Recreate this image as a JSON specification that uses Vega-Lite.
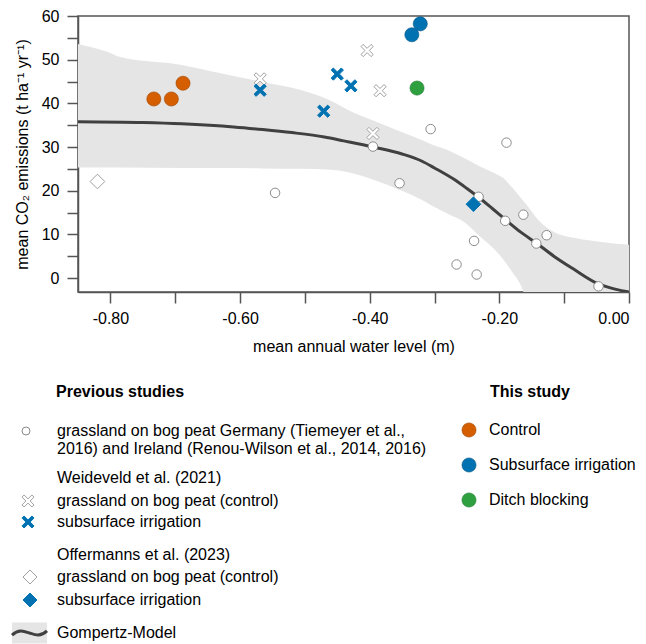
{
  "$schema": "https://vega.github.io/schema/vega-lite/v6.json",
  "width": 551,
  "height": 276,
  "autosize": {"type": "none"},
  "padding": {"left": 78, "top": 16, "right": 17, "bottom": 352},
  "background": "white",
  "config": {
    "font": "Liberation Sans",
    "view": {"stroke": "#555555", "strokeWidth": 1.5},
    "axis": {
      "domainColor": "#555555", "domainWidth": 1.5,
      "tickColor": "#555555", "tickWidth": 1.5, "tickSize": 11,
      "labelFontSize": 16, "labelColor": "#000000", "labelFont": "Liberation Sans",
      "titleFontSize": 16, "titleFontWeight": "normal", "titleColor": "#000000", "titleFont": "Liberation Sans",
      "grid": false
    },
    "legend": {
      "orient": "none", "padding": 0,
      "labelFontSize": 16, "titleFontSize": 16, "labelFont": "Liberation Sans", "titleFont": "Liberation Sans",
      "labelColor": "#000000", "titleColor": "#000000", "labelLimit": 0, "titleLimit": 0
    }
  },
  "datasets": {
    "curve": [
      {"wl": -0.85, "co2": 35.8, "model": "Gompertz-Model"},
      {"wl": -0.75, "co2": 35.6, "model": "Gompertz-Model"},
      {"wl": -0.69, "co2": 35.3, "model": "Gompertz-Model"},
      {"wl": -0.61, "co2": 34.6, "model": "Gompertz-Model"},
      {"wl": -0.565, "co2": 34.0, "model": "Gompertz-Model"},
      {"wl": -0.52, "co2": 33.3, "model": "Gompertz-Model"},
      {"wl": -0.47, "co2": 32.3, "model": "Gompertz-Model"},
      {"wl": -0.44, "co2": 31.4, "model": "Gompertz-Model"},
      {"wl": -0.395, "co2": 30.0, "model": "Gompertz-Model"},
      {"wl": -0.35, "co2": 28.4, "model": "Gompertz-Model"},
      {"wl": -0.32, "co2": 26.8, "model": "Gompertz-Model"},
      {"wl": -0.3, "co2": 25.2, "model": "Gompertz-Model"},
      {"wl": -0.27, "co2": 22.6, "model": "Gompertz-Model"},
      {"wl": -0.25, "co2": 20.5, "model": "Gompertz-Model"},
      {"wl": -0.232, "co2": 18.5, "model": "Gompertz-Model"},
      {"wl": -0.21, "co2": 15.8, "model": "Gompertz-Model"},
      {"wl": -0.19, "co2": 13.3, "model": "Gompertz-Model"},
      {"wl": -0.167, "co2": 10.5, "model": "Gompertz-Model"},
      {"wl": -0.142, "co2": 7.9, "model": "Gompertz-Model"},
      {"wl": -0.116, "co2": 5.0, "model": "Gompertz-Model"},
      {"wl": -0.085, "co2": 2.0, "model": "Gompertz-Model"},
      {"wl": -0.048, "co2": -1.3, "model": "Gompertz-Model"},
      {"wl": -0.02, "co2": -2.6, "model": "Gompertz-Model"},
      {"wl": 0.0, "co2": -3.2, "model": "Gompertz-Model"}
    ],
    "band": [
      {"wl": -0.85, "co2": 25.3, "co2hi": 53.6, "model": "band"},
      {"wl": -0.805, "co2": 25.3, "co2hi": 51.8, "model": "band"},
      {"wl": -0.785, "co2": 25.3, "co2hi": 50.6, "model": "band"},
      {"wl": -0.69, "co2": 25.2, "co2hi": 48.8, "model": "band"},
      {"wl": -0.63, "co2": 25.2, "co2hi": 46.9, "model": "band"},
      {"wl": -0.565, "co2": 25.1, "co2hi": 44.9, "model": "band"},
      {"wl": -0.505, "co2": 25.0, "co2hi": 43.0, "model": "band"},
      {"wl": -0.46, "co2": 24.8, "co2hi": 40.6, "model": "band"},
      {"wl": -0.435, "co2": 24.3, "co2hi": 38.6, "model": "band"},
      {"wl": -0.39, "co2": 22.3, "co2hi": 35.8, "model": "band"},
      {"wl": -0.352, "co2": 20.1, "co2hi": 33.5, "model": "band"},
      {"wl": -0.32, "co2": 17.9, "co2hi": 31.6, "model": "band"},
      {"wl": -0.306, "co2": 16.7, "co2hi": 30.7, "model": "band"},
      {"wl": -0.275, "co2": 14.4, "co2hi": 29.0, "model": "band"},
      {"wl": -0.259, "co2": 13.3, "co2hi": 27.8, "model": "band"},
      {"wl": -0.229, "co2": 9.4, "co2hi": 25.5, "model": "band"},
      {"wl": -0.202, "co2": 5.7, "co2hi": 23.6, "model": "band"},
      {"wl": -0.195, "co2": 4.4, "co2hi": 23.0, "model": "band"},
      {"wl": -0.182, "co2": 1.8, "co2hi": 21.0, "model": "band"},
      {"wl": -0.167, "co2": -1.6, "co2hi": 18.4, "model": "band"},
      {"wl": -0.158, "co2": -4.5, "co2hi": 16.8, "model": "band"},
      {"wl": -0.14, "co2": -4.5, "co2hi": 13.3, "model": "band"},
      {"wl": -0.115, "co2": -4.5, "co2hi": 10.5, "model": "band"},
      {"wl": -0.085, "co2": -4.5, "co2hi": 9.2, "model": "band"},
      {"wl": -0.04, "co2": -4.5, "co2hi": 8.2, "model": "band"},
      {"wl": 0.0, "co2": -4.5, "co2hi": 7.6, "model": "band"}
    ],
    "pts": [
      {"study": "tiemeyer", "label": "grassland on bog peat Germany and Ireland", "wl": -0.306, "co2": 34.1},
      {"study": "tiemeyer", "label": "grassland on bog peat Germany and Ireland", "wl": -0.189, "co2": 31.0},
      {"study": "tiemeyer", "label": "grassland on bog peat Germany and Ireland", "wl": -0.395, "co2": 30.1},
      {"study": "tiemeyer", "label": "grassland on bog peat Germany and Ireland", "wl": -0.546, "co2": 19.5},
      {"study": "tiemeyer", "label": "grassland on bog peat Germany and Ireland", "wl": -0.354, "co2": 21.7},
      {"study": "tiemeyer", "label": "grassland on bog peat Germany and Ireland", "wl": -0.232, "co2": 18.6},
      {"study": "tiemeyer", "label": "grassland on bog peat Germany and Ireland", "wl": -0.163, "co2": 14.5},
      {"study": "tiemeyer", "label": "grassland on bog peat Germany and Ireland", "wl": -0.191, "co2": 13.1},
      {"study": "tiemeyer", "label": "grassland on bog peat Germany and Ireland", "wl": -0.127, "co2": 9.8},
      {"study": "tiemeyer", "label": "grassland on bog peat Germany and Ireland", "wl": -0.143, "co2": 7.9},
      {"study": "tiemeyer", "label": "grassland on bog peat Germany and Ireland", "wl": -0.239, "co2": 8.5},
      {"study": "tiemeyer", "label": "grassland on bog peat Germany and Ireland", "wl": -0.266, "co2": 3.1},
      {"study": "tiemeyer", "label": "grassland on bog peat Germany and Ireland", "wl": -0.235, "co2": 0.8},
      {"study": "tiemeyer", "label": "grassland on bog peat Germany and Ireland", "wl": -0.047, "co2": -1.9},
      {"study": "weideveld", "label": "grassland on bog peat (control)", "wl": -0.569, "co2": 45.6},
      {"study": "weideveld", "label": "grassland on bog peat (control)", "wl": -0.404, "co2": 52.1},
      {"study": "weideveld", "label": "grassland on bog peat (control)", "wl": -0.384, "co2": 42.9},
      {"study": "weideveld", "label": "grassland on bog peat (control)", "wl": -0.395, "co2": 33.1},
      {"study": "weideveld", "label": "subsurface irrigation", "wl": -0.569, "co2": 43.0},
      {"study": "weideveld", "label": "subsurface irrigation", "wl": -0.471, "co2": 38.2},
      {"study": "weideveld", "label": "subsurface irrigation", "wl": -0.45, "co2": 46.7},
      {"study": "weideveld", "label": "subsurface irrigation", "wl": -0.429, "co2": 44.0},
      {"study": "offermanns", "label": "grassland on bog peat (control)", "wl": -0.82, "co2": 22.1},
      {"study": "offermanns", "label": "subsurface irrigation", "wl": -0.24, "co2": 16.9},
      {"study": "this", "label": "Control", "wl": -0.733, "co2": 41.0},
      {"study": "this", "label": "Control", "wl": -0.706, "co2": 41.0},
      {"study": "this", "label": "Control", "wl": -0.688, "co2": 44.6},
      {"study": "this", "label": "Subsurface irrigation", "wl": -0.322, "co2": 58.2},
      {"study": "this", "label": "Subsurface irrigation", "wl": -0.335, "co2": 55.7},
      {"study": "this", "label": "Ditch blocking", "wl": -0.327, "co2": 43.5}
    ]
  },
  "encoding": {
    "x": {
      "field": "wl", "type": "quantitative",
      "scale": {"domain": [-0.85, 0], "nice": false, "zero": false},
      "axis": {
        "title": "mean annual water level (m)",
        "values": [-0.8, -0.7, -0.6, -0.5, -0.4, -0.3, -0.2, -0.1, 0],
        "labelExpr": "(round(datum.value * 10) % 2 == 0) ? ((datum.value < 0 ? '-' : '') + format(abs(datum.value), '.2f')) : ''",
        "labelPadding": 7, "titlePadding": 12
      }
    },
    "y": {
      "field": "co2", "type": "quantitative",
      "scale": {"domain": [-3.2, 60], "nice": false, "zero": false},
      "axis": {
        "title": "mean CO₂ emissions (t ha⁻¹ yr⁻¹)",
        "values": [0, 5, 10, 15, 20, 25, 30, 35, 40, 45, 50, 55, 60],
        "labelExpr": "datum.value % 10 == 0 ? datum.label : ''",
        "labelPadding": 8, "titlePadding": 11
      }
    }
  },
  "layer": [
    {
      "data": {"name": "band"},
      "mark": {"type": "area", "clip": true, "interpolate": "monotone"},
      "encoding": {
        "y2": {"field": "co2hi"},
        "fill": {
          "field": "model", "type": "nominal",
          "scale": {"range": ["#e5e5e5"]},
          "legend": {
            "title": null, "symbolType": "M-1,-0.6L1,-0.6L1,0.6L-1,0.6Z", "symbolSize": 1225,
            "symbolStrokeWidth": 0, "symbolStrokeColor": "transparent", "symbolFillColor": "#e5e5e5",
            "labelExpr": "''", "legendX": -21, "legendY": 599.5, "symbolOffset": -45, "zindex": 0
          }
        }
      }
    },
    {
      "data": {"name": "curve"},
      "mark": {"type": "line", "strokeWidth": 3, "interpolate": "monotone", "clip": true},
      "encoding": {
        "stroke": {
          "field": "model", "type": "nominal",
          "scale": {"range": ["#404040"]},
          "legend": {
            "title": null, "symbolType": "M-1,0.12C-0.6,-0.25 -0.3,-0.1 0,0C0.3,0.1 0.6,0.25 1,-0.12",
            "symbolSize": 1225, "symbolStrokeWidth": 3, "symbolFillColor": "transparent",
            "legendX": -21, "legendY": 598, "labelOffset": 8.5, "symbolOffset": -46.5, "zindex": 1
          }
        }
      }
    },
    {
      "data": {"name": "pts"},
      "transform": [{"filter": "datum.study == 'tiemeyer'"}],
      "mark": {"type": "point", "filled": true, "strokeWidth": 1, "size": 90, "opacity": 1},
      "encoding": {
        "shape": {
          "field": "label", "type": "nominal",
          "scale": {"range": ["circle"]},
          "legend": {
            "title": "Previous studies", "titleFontWeight": "bold",
            "labelExpr": "['grassland on bog peat Germany (Tiemeyer et al.,', '2016) and Ireland (Renou-Wilson et al., 2014, 2016)']",
            "symbolSize": 64, "symbolStrokeWidth": 1,
            "legendX": -22, "legendY": 368, "titlePadding": 23, "labelOffset": 23, "symbolOffset": -38
          }
        },
        "fill": {
          "field": "label", "type": "nominal",
          "scale": {"range": ["#ffffff"]}
        },
        "stroke": {
          "field": "label", "type": "nominal",
          "scale": {"range": ["#8a8a8a"]}
        }
      }
    },
    {
      "data": {"name": "pts"},
      "transform": [{"filter": "datum.study == 'weideveld'"}],
      "mark": {"type": "point", "filled": true, "strokeWidth": 1, "size": 150, "opacity": 1},
      "encoding": {
        "shape": {
          "field": "label", "type": "nominal",
          "scale": {
            "domain": ["grassland on bog peat (control)", "subsurface irrigation"],
            "range": ["M0.65,-1L1,-0.65L0.35,0L1,0.65L0.65,1L0,0.35L-0.65,1L-1,0.65L-0.35,0L-1,-0.65L-0.65,-1L0,-0.35Z", "M0.65,-1L1,-0.65L0.35,0L1,0.65L0.65,1L0,0.35L-0.65,1L-1,0.65L-0.35,0L-1,-0.65L-0.65,-1L0,-0.35Z"]
          },
          "legend": {
            "title": "Weideveld et al. (2021)", "titleFontWeight": "normal",
            "symbolSize": 144, "symbolStrokeWidth": 1,
            "legendX": -21, "legendY": 454, "titlePadding": 7, "rowPadding": 5, "labelOffset": 21, "symbolOffset": -37
          }
        },
        "fill": {
          "field": "label", "type": "nominal",
          "scale": {"domain": ["grassland on bog peat (control)", "subsurface irrigation"], "range": ["#ffffff", "#0072B2"]}
        },
        "stroke": {
          "field": "label", "type": "nominal",
          "scale": {"domain": ["grassland on bog peat (control)", "subsurface irrigation"], "range": ["#a0a0a0", "#0072B2"]}
        }
      }
    },
    {
      "data": {"name": "pts"},
      "transform": [{"filter": "datum.study == 'offermanns'"}],
      "mark": {"type": "point", "filled": true, "strokeWidth": 1, "size": 215, "opacity": 1},
      "encoding": {
        "shape": {
          "field": "label", "type": "nominal",
          "scale": {"domain": ["grassland on bog peat (control)", "subsurface irrigation"], "range": ["diamond", "diamond"]},
          "legend": {
            "title": "Offermanns et al. (2023)", "titleFontWeight": "normal",
            "symbolSize": 196, "symbolStrokeWidth": 1,
            "legendX": -21, "legendY": 531, "titlePadding": 6, "rowPadding": 5, "labelOffset": 19, "symbolOffset": -35
          }
        },
        "fill": {
          "field": "label", "type": "nominal",
          "scale": {"domain": ["grassland on bog peat (control)", "subsurface irrigation"], "range": ["#ffffff", "#0072B2"]}
        },
        "stroke": {
          "field": "label", "type": "nominal",
          "scale": {"domain": ["grassland on bog peat (control)", "subsurface irrigation"], "range": ["#a0a0a0", "#0072B2"]}
        }
      }
    },
    {
      "data": {"name": "pts"},
      "transform": [{"filter": "datum.study == 'this'"}],
      "mark": {"type": "point", "shape": "circle", "filled": true, "strokeWidth": 0.6, "size": 200, "opacity": 1},
      "encoding": {
        "fill": {
          "field": "label", "type": "nominal",
          "scale": {"domain": ["Control", "Subsurface irrigation", "Ditch blocking"], "range": ["#D55E00", "#0072B2", "#2FA040"]},
          "legend": {
            "title": "This study", "titleFontWeight": "bold", "symbolType": "circle",
            "symbolSize": 200, "symbolStrokeWidth": 0.6,
            "legendX": 412, "legendY": 368, "titlePadding": 22, "rowPadding": 17, "labelOffset": 12, "symbolOffset": -29
          }
        },
        "stroke": {
          "field": "label", "type": "nominal",
          "scale": {"domain": ["Control", "Subsurface irrigation", "Ditch blocking"], "range": ["#a04600", "#005585", "#237a30"]}
        }
      }
    }
  ],
  "resolve": {"scale": {"fill": "independent", "stroke": "independent", "shape": "independent"}}
}
